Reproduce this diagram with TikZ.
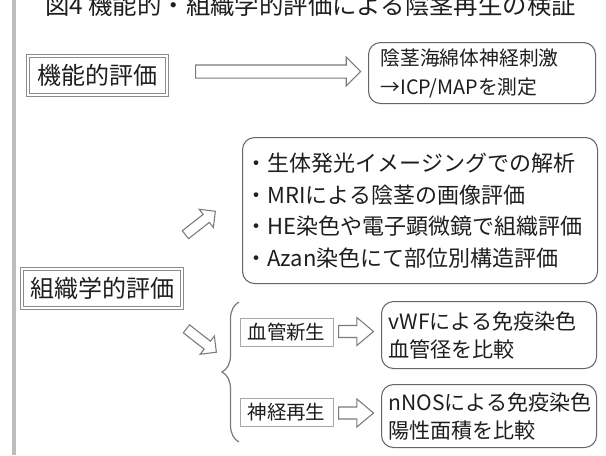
\documentclass[tikz,border=0pt]{standalone}
\usepackage{fontspec}
\setmainfont{Noto Sans CJK JP}
\usetikzlibrary{shapes.arrows,decorations.pathreplacing,calc}
\definecolor{txt}{HTML}{1E1E1E}
\definecolor{barc}{HTML}{BDBDBD}
\definecolor{bd}{HTML}{666666}
\definecolor{lbd}{HTML}{A8A8A8}
\definecolor{arr}{HTML}{7A7A7A}
\begin{document}
\begin{tikzpicture}[x=0.75pt,y=-0.75pt,
  every node/.style={text=txt, inner sep=0pt},
  dbox/.style={draw=black!45, double=white, double distance=1.2pt, line width=0.55pt,
     minimum height=29.25pt, font=\fontsize{18pt}{20pt}\selectfont},
  rbox/.style={draw=bd, line width=0.8pt, rounded corners=9pt, align=left,
     anchor=north west, inner ysep=0pt},
  sbox/.style={draw=lbd, line width=0.7pt, minimum width=69.75pt, minimum height=21pt,
     font=\fontsize{14.6pt}{16pt}\selectfont},
  harrow/.style={single arrow, draw=arr, fill=white, line width=0.8pt, inner xsep=0pt,
     minimum width=0pt, anchor=tail}
]
\clip (0,0) rectangle (606,455);
\fill[white] (0,0) rectangle (606,455);
\fill[barc] (12,0) rectangle (16,455);

\node[anchor=base, font=\fontsize{18.3pt}{20pt}\selectfont] (title) at (310.5,14)
  {図4 機能的・組織学的評価による陰茎再生の検証};

\node[dbox, minimum width=104.25pt] (kino) at (97.5,75.5) {機能的評価};
\node[dbox, minimum width=120pt] (soshiki) at (102,288.5) {組織学的評価};

\node[rbox, minimum height=45.75pt, inner xsep=9pt, text width=152.25pt,
      font=\fontsize{14.85pt}{21.75pt}\selectfont] (func) at (368,42)
  {陰茎海綿体神経刺激\\→ICP/MAPを測定};

\node[rbox, minimum height=109.5pt, inner xsep=2.25pt, text width=261.75pt,
      font=\fontsize{16.5pt}{23.8pt}\selectfont] (hist) at (242,137)
  {・生体発光イメージングでの解析\\・MRIによる陰茎の画像評価\\・HE染色や電子顕微鏡で組織評価\\・Azan染色にて部位別構造評価};

\node[sbox] (kekkan) at (286.5,332) {血管新生};
\node[sbox] (shinkei) at (286.5,412.5) {神経再生};

\node[rbox, minimum height=50.25pt, inner xsep=5.25pt, text width=150.75pt,
      font=\fontsize{15.8pt}{21pt}\selectfont] (vwf) at (381,301)
  {vWFによる免疫染色\\血管径を比較};
\node[rbox, minimum height=47.25pt, inner xsep=5.25pt, text width=150.75pt,
      font=\fontsize{15.8pt}{21pt}\selectfont] (nnos) at (381,384)
  {nNOSによる免疫染色\\陽性面積を比較};

% hollow arrows
\node[harrow, minimum height=123.75pt, inner ysep=4.5pt, single arrow head extend=5.8pt,
      single arrow tip angle=90] (a1) at (195,71.5) {};
\node[harrow, minimum height=26.25pt, inner ysep=4.1pt, single arrow head extend=6pt,
      single arrow tip angle=80] (a2) at (338,331.5) {};
\node[harrow, minimum height=26.25pt, inner ysep=4.1pt, single arrow head extend=6pt,
      single arrow tip angle=80] (a3) at (338,413) {};
\node[harrow, minimum height=28.5pt, inner ysep=3.4pt, single arrow head extend=4.85pt,
      single arrow tip angle=90, rotate=38] (a4) at (185,235) {};
\node[harrow, minimum height=28.5pt, inner ysep=3.4pt, single arrow head extend=4.85pt,
      single arrow tip angle=90, rotate=-38] (a5) at (186,328.5) {};

% brace
\coordinate (bbot) at (239,442);
\coordinate (btop) at (239,302);
\draw[arr, line width=0.9pt, decorate, decoration={brace, amplitude=12.75pt}] (bbot) -- (btop);
\end{tikzpicture}
\end{document}
